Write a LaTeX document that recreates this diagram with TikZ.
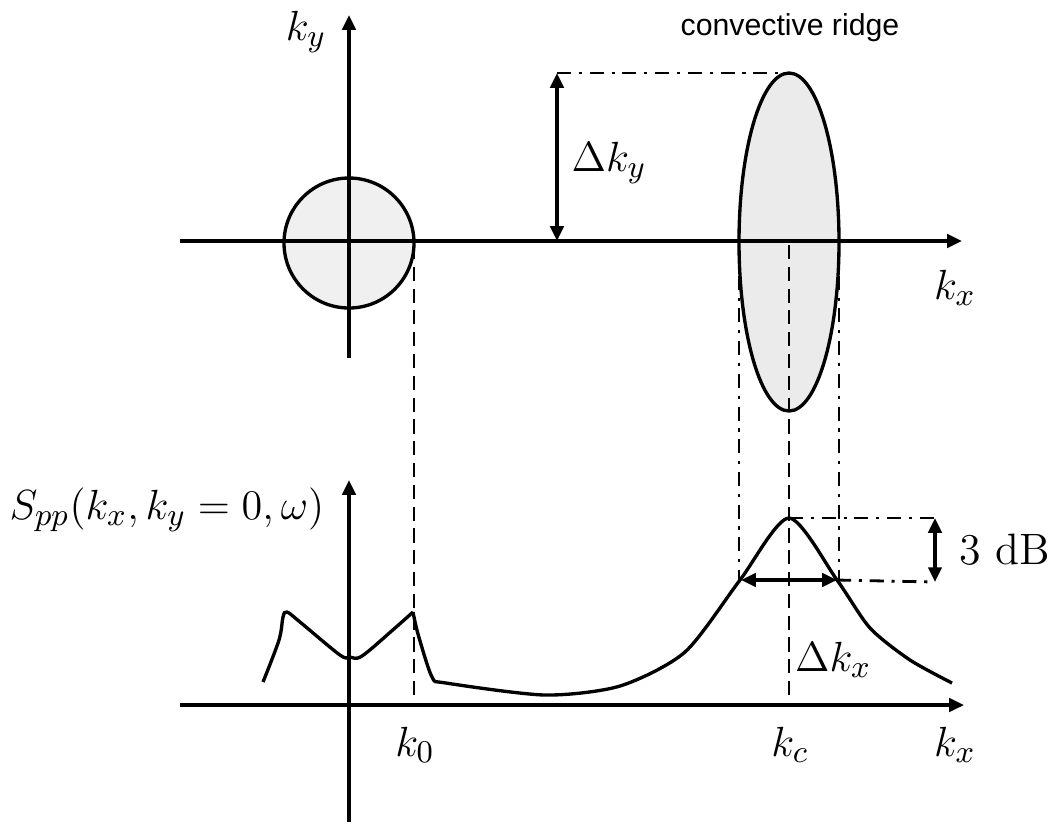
\documentclass[tikz,border=0pt]{standalone}
\usepackage{fontspec}
\newfontfamily\labelsans{Liberation Sans}
\usepackage{tikz}
\usetikzlibrary{arrows.meta, positioning, calc}

\begin{document}
\begin{tikzpicture}[x=0.01cm, y=-0.01cm,
			font=\fontsize{12.5}{14}\selectfont,
			axis/.style={line width=0.95pt, -{Triangle[length=4.2pt,width=3.8pt]}},
			dim/.style={line width=0.95pt, {Triangle[length=4.2pt,width=3.8pt]}-{Triangle[length=4.2pt,width=3.8pt]}},
			guide/.style={line width=0.8pt, dash pattern=on 4pt off 2.2pt},
			guidedot/.style={line width=0.8pt, dash pattern=on 4pt off 2.2pt on 0.9pt off 2.2pt},
			blob/.style={line width=0.95pt, draw=black},
			lbl/.style={inner sep=1pt}
			]
			\useasboundingbox (0,0) rectangle (1058,826);
			
			% wavenumber plane
			\coordinate (txl) at (180,241);
			\coordinate (txr) at (962,241);
			\coordinate (tyb) at (349,358);
			\coordinate (tyt) at (349,15);
			\coordinate (o1) at (349,243);
			\coordinate (ridge) at (789,242);
			\draw[blob, fill=black!6] (o1) circle[radius=65];
			\draw[blob, fill=black!8] (ridge) ellipse[x radius=50, y radius=169];
			\draw[axis] (txl) -- (txr);
			\draw[axis] (tyb) -- (tyt);
			\node[lbl] (kytop) at (306,32) {$k_y$};
			\node[lbl] (kxtop) at (955,288) {$k_x$};
			\node[lbl, font=\labelsans\fontsize{8.6}{10}\selectfont] (conv) at (790,28) {convective ridge};
			
			% ridge height
			\coordinate (rtop) at (789,73);
			\coordinate (dytop) at (557,73);
			\coordinate (dybot) at (557,241);
			\draw[guidedot] (dytop) -- (rtop);
			\draw[dim] (dybot) -- (dytop);
			\node[lbl] (dky) at (609,163) {$\Delta k_y$};
			
			% spectrum
			\coordinate (bxl) at (180,705);
			\coordinate (bxr) at (964,705);
			\coordinate (byb) at (349,822);
			\coordinate (byt) at (349,480);
			\draw[axis] (bxl) -- (bxr);
			\draw[axis] (byb) -- (byt);
			\node[lbl] (spp) at (167,510) {$S_{pp}(k_x,k_y=0,\omega)$};
			\node[lbl] (k0) at (415,745) {$k_0$};
			\node[lbl] (kc) at (790,745) {$k_c$};
			\node[lbl] (kxbot) at (955,745) {$k_x$};
			
			\draw[line width=0.95pt] plot[smooth, tension=0.55] coordinates {
				(263,682) (279,640) (283,617) (287,612) (300,622) (340,655)
				(350,657) (362,656) (395,628) (413,612)};
			\draw[line width=0.95pt] plot[smooth, tension=0.45] coordinates {
				(413,612) (418,634) (432,677) (446,683) (545,695) (620,686)
				(685,652) (740,580) (789,518) (837,580) (870,628) (910,660) (952,683)};
			
			% guide lines
			\coordinate (p0t) at (414,245);
			\coordinate (p0b) at (414,705);
			\coordinate (pct) at (789,245);
			\coordinate (pcb) at (789,705);
			\coordinate (wlt) at (739,243);
			\coordinate (wlb) at (739,580);
			\coordinate (wrt) at (839,243);
			\coordinate (wrb) at (839,580);
			\coordinate (peak) at (789,518);
			\coordinate (dbt) at (935,518);
			\coordinate (dbb) at (935,582);
			\coordinate (hl) at (741,580);
			\coordinate (hr) at (837,580);
			\draw[guide] (p0t) -- (p0b);
			\draw[guide] (pct) -- (pcb);
			\draw[guidedot] (wlt) -- (wlb);
			\draw[guidedot] (wrt) -- (wrb);
			\draw[guidedot] (peak) -- (dbt);
			\draw[guidedot] (hr) -- (dbb);
			\draw[dim] (dbb) -- (dbt);
			\draw[dim] (hl) -- (hr);
			\node[lbl] (db) at (1005,550) {3 dB};
			\node[lbl, anchor=west] (dkx) at (791,660) {$\Delta k_x$};
		\end{tikzpicture}
\end{document}
